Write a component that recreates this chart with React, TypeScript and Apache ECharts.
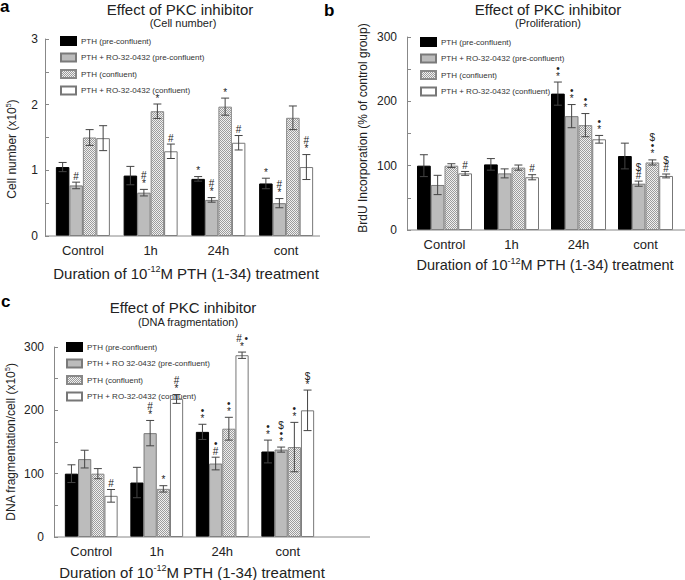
import React, { useEffect, useRef } from "react";
import * as echarts from "echarts";

const categories = ["Control", "1h", "24h", "cont"];
const seriesNames = ["PTH (pre-confluent)", "PTH + RO-32-0432 (pre-confluent)", "PTH (confluent)", "PTH + RO-32-0432 (confluent)"];
const seriesNamesC = ["PTH (pre-confluent)", "PTH + RO 32-0432 (pre-confluent)", "PTH (confluent)", "PTH + RO-32-0432 (confluent)"];

// Panel a: Cell number (x10^5)
const aPre = [1.05, 0.92, 0.87, 0.8];
const aPreErr = [0.07, 0.14, 0.035, 0.08];
const aRoPre = [0.77, 0.66, 0.55, 0.5];
const aRoPreErr = [0.05, 0.05, 0.035, 0.07];
const aConf = [1.5, 1.9, 1.97, 1.8];
const aConfErr = [0.12, 0.11, 0.13, 0.18];
const aRoConf = [1.49, 1.29, 1.42, 1.05];
const aRoConfErr = [0.19, 0.11, 0.11, 0.19];
const aNotes: [number, number, string][] = [
  [0, 1, "#"], [1, 1, "#\n*"], [1, 2, "*"], [1, 3, "#"], [2, 0, "*"], [2, 1, "#\n*"],
  [2, 2, "*"], [2, 3, "#"], [3, 0, "*"], [3, 1, "#\n*"], [3, 3, "#\n*"],
];

// Panel b: BrdU incorporation (% of control)
const bPre = [100, 102, 212, 115];
const bPreErr = [17, 9, 18, 20];
const bRoPre = [70, 88, 177, 72];
const bRoPreErr = [15, 7, 18, 4];
const bConf = [100, 97, 163, 105];
const bConfErr = [3, 4, 18, 4];
const bRoConf = [88, 82, 141, 84];
const bRoConfErr = [3, 4, 6, 3];
const bNotes: [number, number, string][] = [
  [0, 3, "#"], [1, 3, "#"], [2, 0, "•\n*"], [2, 1, "•\n*"], [2, 2, "•\n*"], [2, 3, "•\n*"],
  [3, 1, "$\n#"], [3, 2, "$\n•\n*"], [3, 3, "$\n#"],
];

// Panel c: DNA fragmentation/cell (x10^5)
const cPre = [100, 86, 166, 135];
const cPreErr = [14, 24, 12, 18];
const cRoPre = [123, 164, 116, 138];
const cRoPreErr = [14, 20, 10, 4];
const cConf = [100, 76, 171, 142];
const cConfErr = [8, 5, 18, 39];
const cRoConf = [65, 218, 287, 200];
const cRoConfErr = [10, 7, 5, 32];
const cNotes: [number, number, string][] = [
  [0, 3, "#"], [1, 1, "#\n*"], [1, 2, "*"], [1, 3, "#\n*"], [2, 0, "•\n*"], [2, 1, "•\n#"],
  [2, 2, "•\n*"], [2, 3, "# •\n*"], [3, 0, "•\n*"], [3, 1, "$\n•\n*"], [3, 2, "•\n*"], [3, 3, "$\n*"],
];

const FONT = "Liberation Sans, Arial, sans-serif";
const INK = "#222222";

function makePattern() {
  const c = document.createElement("canvas");
  c.width = 4;
  c.height = 4;
  const ctx = c.getContext("2d")!;
  ctx.fillStyle = "#f0f0f0";
  ctx.fillRect(0, 0, 4, 4);
  ctx.fillStyle = "#9c9c9c";
  for (let y = 0; y < 4; y++) for (let x = 0; x < 4; x++) if ((x + y) % 2 === 0) ctx.fillRect(x, y, 1, 1);
  return { image: c, repeat: "repeat", imageWidth: 4, imageHeight: 4 } as any;
}

export default function App() {
  const ref = useRef<HTMLDivElement>(null);
  useEffect(() => {
    const chart = echarts.init(ref.current!, null, { renderer: "svg" });
    const pattern = makePattern();
    const styles = [
      { color: "#000", borderColor: "#000", borderWidth: 1 },
      { color: "#bcbcbc", borderColor: "#7a7a7a", borderWidth: 1 },
      { color: pattern, borderColor: "#888", borderWidth: 1 },
      { color: "#fff", borderColor: "#777", borderWidth: 1 },
    ];

    const panels = [
      { vals: [aPre, aRoPre, aConf, aRoConf], errs: [aPreErr, aRoPreErr, aConfErr, aRoConfErr], notes: aNotes, names: seriesNames, bw: 13.5 },
      { vals: [bPre, bRoPre, bConf, bRoConf], errs: [bPreErr, bRoPreErr, bConfErr, bRoConfErr], notes: bNotes, names: seriesNames, bw: 13.75 },
      { vals: [cPre, cRoPre, cConf, cRoConf], errs: [cPreErr, cRoPreErr, cConfErr, cRoConfErr], notes: cNotes, names: seriesNamesC, bw: 13.2 },
    ];

    const grids = [
      { left: 49, top: 39, width: 271, height: 197 },
      { left: 411, top: 37, width: 268, height: 193 },
      { left: 58.5, top: 347, width: 262, height: 190 },
    ];
    const yConf = [
      { max: 3, interval: 0.5, step: 1, offset: 4, margin: 7 },
      { max: 300, interval: 50, step: 100, offset: 4, margin: 10 },
      { max: 300, interval: 50, step: 100, offset: 4.5, margin: 10 },
    ];
    const legendPos = [
      { left: 55, top: 31 },
      { left: 415, top: 32 },
      { left: 61, top: 337 },
    ];

    const series: any[] = [];
    panels.forEach((p, pi) => {
      p.vals.forEach((v, si) => {
        series.push({
          type: "bar",
          name: p.names[si],
          xAxisIndex: pi,
          yAxisIndex: pi,
          data: v,
          barWidth: p.bw,
          barGap: "0%",
          itemStyle: styles[si],
          z: 2,
        });
      });
      const errData: number[][] = [];
      p.vals.forEach((v, si) => v.forEach((val, ci) => errData.push([ci, val, p.errs[si][ci], si])));
      const bw = p.bw;
      series.push({
        type: "custom",
        xAxisIndex: pi,
        yAxisIndex: pi,
        z: 4,
        clip: false,
        silent: true,
        itemStyle: { color: "#444" },
        data: errData,
        renderItem: (params: any, api: any) => {
          const ci = api.value(0), val = api.value(1), e = api.value(2), si = api.value(3);
          const t = api.coord([ci, val + e]);
          const b = api.coord([ci, val - e]);
          const x = t[0] + (si - 1.5) * bw;
          const st = { stroke: "#444", lineWidth: 1 };
          return {
            type: "group",
            children: [
              { type: "line", shape: { x1: x, y1: t[1], x2: x, y2: b[1] }, style: st },
              { type: "line", shape: { x1: x - 4, y1: t[1], x2: x + 4, y2: t[1] }, style: st },
              { type: "line", shape: { x1: x - 4, y1: b[1], x2: x + 4, y2: b[1] }, style: st },
            ],
          };
        },
      });
      const noteData = p.notes.map(([ci, si]) => [ci, p.vals[si][ci] + p.errs[si][ci], si]);
      const notes = p.notes;
      series.push({
        type: "custom",
        xAxisIndex: pi,
        yAxisIndex: pi,
        z: 5,
        clip: false,
        silent: true,
        itemStyle: { color: INK },
        data: noteData,
        renderItem: (params: any, api: any) => {
          const ci = api.value(0), top = api.value(1), si = api.value(2);
          const c = api.coord([ci, top]);
          return {
            type: "text",
            x: c[0] + (si - 1.5) * bw,
            y: c[1] - 2,
            style: {
              text: notes[params.dataIndex][2],
              align: "center",
              verticalAlign: "bottom",
              fontSize: 10,
              lineHeight: 8,
              fontFamily: FONT,
              fill: INK,
              stroke: "none",
            },
          };
        },
      });
    });

    const supRich = (size: number) => ({
      n: { fontSize: size, fontFamily: FONT, fill: INK, lineHeight: size + 3 },
      s: { fontSize: Math.round(size * 0.6), fontFamily: FONT, fill: INK, verticalAlign: "top" },
    });

    const xName = "{n|Duration of 10}{s|-12}{n|M PTH (1-34) treatment}";
    const graphic: any[] = [
      // panel letters
      { type: "text", x: 0, y: -2, style: { text: "a", fontSize: 17, fontWeight: "bold", fontFamily: FONT, fill: "#000" } },
      { type: "text", x: 324, y: 2, style: { text: "b", fontSize: 17, fontWeight: "bold", fontFamily: FONT, fill: "#000" } },
      { type: "text", x: 1, y: 293, style: { text: "c", fontSize: 17, fontWeight: "bold", fontFamily: FONT, fill: "#000" } },
      // titles
      { type: "text", x: 180, y: 9, style: { text: "Effect of PKC inhibitor", fontSize: 15, fontFamily: FONT, fill: INK, align: "center", verticalAlign: "middle" } },
      { type: "text", x: 183, y: 23, style: { text: "(Cell number)", fontSize: 11, fontFamily: FONT, fill: INK, align: "center", verticalAlign: "middle" } },
      { type: "text", x: 548, y: 9, style: { text: "Effect of PKC inhibitor", fontSize: 15, fontFamily: FONT, fill: INK, align: "center", verticalAlign: "middle" } },
      { type: "text", x: 548, y: 23, style: { text: "(Proliferation)", fontSize: 11, fontFamily: FONT, fill: INK, align: "center", verticalAlign: "middle" } },
      { type: "text", x: 183, y: 307, style: { text: "Effect of PKC inhibitor", fontSize: 15, fontFamily: FONT, fill: INK, align: "center", verticalAlign: "middle" } },
      { type: "text", x: 188, y: 322, style: { text: "(DNA fragmentation)", fontSize: 11, fontFamily: FONT, fill: INK, align: "center", verticalAlign: "middle" } },
      // y axis names
      { type: "text", x: 12, y: 149, rotation: Math.PI / 2, style: { text: "{n|Cell number (x10}{s|5}{n|)}", rich: supRich(12), align: "center", verticalAlign: "middle" } },
      { type: "text", x: 363, y: 128, rotation: Math.PI / 2, style: { text: "{n|BrdU Incorporation (% of control group)}", rich: supRich(12), align: "center", verticalAlign: "middle" } },
      { type: "text", x: 11, y: 442, rotation: Math.PI / 2, style: { text: "{n|DNA fragmentation/cell (x10}{s|5}{n|)}", rich: supRich(12), align: "center", verticalAlign: "middle" } },
      // x axis names
      { type: "text", x: 186, y: 273, style: { text: xName, rich: supRich(15), align: "center", verticalAlign: "middle" } },
      { type: "text", x: 545, y: 265, style: { text: xName, rich: supRich(14.5), align: "center", verticalAlign: "middle" } },
      { type: "text", x: 192, y: 572, style: { text: xName, rich: supRich(15), align: "center", verticalAlign: "middle" } },
      // x axis lines
      { type: "line", shape: { x1: 45, y1: 236, x2: 320, y2: 236 }, style: { stroke: "#888", lineWidth: 1 }, z: 10 },
      { type: "line", shape: { x1: 407, y1: 230, x2: 685, y2: 230 }, style: { stroke: "#888", lineWidth: 1 }, z: 10 },
      { type: "line", shape: { x1: 54, y1: 537, x2: 370, y2: 537 }, style: { stroke: "#888", lineWidth: 1 }, z: 10 },
    ];

    const option: any = {
      animation: false,
      backgroundColor: "#fff",
      textStyle: { fontFamily: FONT },
      grid: grids,
      xAxis: grids.map((g, i) => ({
        type: "category",
        gridIndex: i,
        data: categories,
        axisLine: { show: false },
        axisTick: { show: false },
        axisLabel: { fontSize: 13, color: INK, margin: 8, fontFamily: FONT },
        splitLine: { show: false },
      })),
      yAxis: yConf.map((y, i) => ({
        type: "value",
        gridIndex: i,
        min: 0,
        max: y.max,
        interval: y.interval,
        offset: y.offset,
        axisLine: { show: true, lineStyle: { color: "#888" } },
        axisTick: { show: true, inside: true, length: 4, lineStyle: { color: "#888" } },
        axisLabel: {
          fontSize: 12,
          color: INK,
          margin: y.margin,
          fontFamily: FONT,
          formatter: (v: number) => (Math.abs(v / y.step - Math.round(v / y.step)) < 1e-6 ? String(v) : ""),
        },
        splitLine: { show: false },
      })),
      legend: legendPos.map((l, i) => ({
        orient: "vertical",
        left: l.left,
        top: l.top,
        itemWidth: 15,
        itemHeight: 8,
        itemGap: 6.5,
        selectedMode: false,
        icon: "rect",
        data: i === 2 ? seriesNamesC : seriesNames,
        textStyle: { fontSize: 8, color: "#333", fontFamily: FONT, lineHeight: 10 },
      })),
      series,
      graphic,
    };
    chart.setOption(option);
    return () => chart.dispose();
  }, []);
  return <div ref={ref} style={{ position: "absolute", left: 0, top: 0, width: 685, height: 580, background: "#fff" }} />;
}
